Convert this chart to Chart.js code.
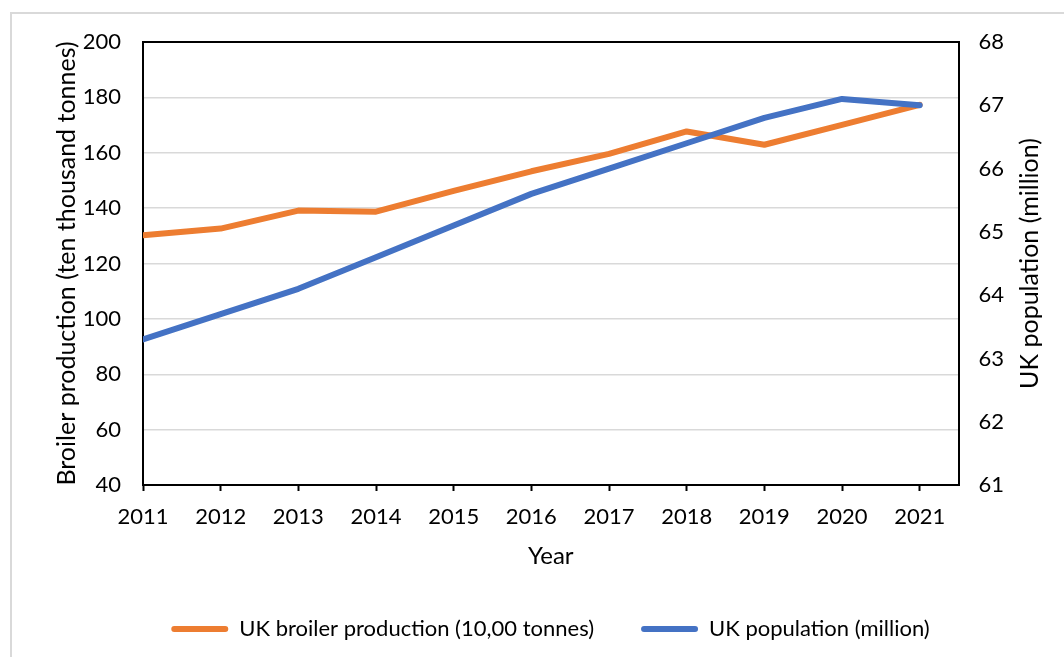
<!DOCTYPE html>
<html>
<head>
<meta charset="utf-8">
<script src="https://cdn.jsdelivr.net/npm/chart.js@4.4.1/dist/chart.umd.min.js"></script>
<style>
    body { margin: 0; background: #fff; }
    #wrap { position: relative; width: 1064px; height: 657px; overflow: hidden; }
    #frame {
        position: absolute; left: 10px; top: 12px; width: 1100px; height: 700px;
        border-left: 2px solid #d9d9d9; border-top: 2px solid #d9d9d9;
    }
    #chart { position: absolute; left: 0; top: 0; }
</style>
</head>
<body>
<div id="wrap">
    <div id="frame"></div>
    <canvas id="chart" width="1064" height="657"></canvas>
</div>
<script>
const years = [2011, 2012, 2013, 2014, 2015, 2016, 2017, 2018, 2019, 2020, 2021]
const broilerProduction = [130.2, 132.6, 139.1, 138.7, 146.2, 153.3, 159.6, 167.7, 162.9, 170.1, 177.3]
const ukPopulation = [63.3, 63.7, 64.1, 64.6, 65.1, 65.6, 66.0, 66.4, 66.8, 67.1, 67.0]

const leftTicks = { min: 40, max: 200, step: 20 }
const rightTicks = { min: 61, max: 68, step: 1 }

const orange = "#ED7D31"
const blue = "#4472C4"
const fontFamily = "Lato, 'Open Sans', sans-serif"

// right axis title reads bottom-to-top, and the plot gets a closed box
const extrasPlugin = {
    id: "extras",
    afterDraw(chart) {
        const { ctx, chartArea } = chart
        ctx.save()
        ctx.strokeStyle = "#000"
        ctx.lineWidth = 2
        ctx.beginPath()
        ctx.moveTo(chartArea.left, chartArea.top)
        ctx.lineTo(chartArea.right, chartArea.top)
        ctx.stroke()

        ctx.translate(1030, (chartArea.top + chartArea.bottom) / 2)
        ctx.rotate(-Math.PI / 2)
        ctx.font = `25px ${fontFamily}`
        ctx.fillStyle = "#000"
        ctx.textAlign = "center"
        ctx.textBaseline = "middle"
        ctx.fillText("UK population (million)", 0, 0)
        ctx.restore()
    }
}

;(function () {
    'use strict'

    let canvas = document.getElementById("chart")
    let config = {
        type: "line",
        data: {
            datasets: [
                {
                    label: "UK broiler production (10,00 tonnes)",
                    data: years.map((yr, i) => ({ x: yr, y: broilerProduction[i] })),
                    borderColor: orange,
                    backgroundColor: orange,
                    yAxisID: "y",
                    order: 1
                },
                {
                    label: "UK population (million)",
                    data: years.map((yr, i) => ({ x: yr, y: ukPopulation[i] })),
                    borderColor: blue,
                    backgroundColor: blue,
                    yAxisID: "y1",
                    order: 0
                }
            ]
        },
        options: {
            responsive: false,
            animation: false,
            devicePixelRatio: 1,
            layout: {
                padding: { left: 37, right: 0, top: 42, bottom: 7 }
            },
            elements: {
                line: { borderWidth: 6, tension: 0, borderCapStyle: "round", borderJoinStyle: "round" },
                point: { radius: 0 }
            },
            plugins: {
                tooltip: { enabled: false },
                legend: {
                    position: "bottom",
                    labels: {
                        color: "#000",
                        font: { family: fontFamily, size: 22 },
                        boxWidth: 57,
                        boxHeight: 6,
                        padding: 47,
                        useBorderRadius: true,
                        borderRadius: 3,
                        sort: (a, b) => a.datasetIndex - b.datasetIndex,
                        generateLabels: chart => {
                            let items = Chart.defaults.plugins.legend.labels.generateLabels(chart)
                            return items.map(it => Object.assign(it, { lineWidth: 0 }))
                        }
                    }
                }
            },
            scales: {
                x: {
                    type: "linear",
                    min: years[0],
                    max: years[years.length - 1] + 0.5,
                    afterBuildTicks: scale => {
                        scale.ticks = years.map(yr => ({ value: yr }))
                    },
                    afterFit: scale => { scale.height = 86 },
                    ticks: {
                        color: "#000",
                        font: { family: fontFamily, size: 22 },
                        padding: 13,
                        maxRotation: 0,
                        callback: value => String(value)
                    },
                    grid: {
                        drawOnChartArea: false,
                        drawTicks: true,
                        tickLength: 6,
                        tickColor: "#000",
                        tickWidth: 2
                    },
                    border: { color: "#000", width: 2 },
                    title: {
                        display: true,
                        text: "Year",
                        color: "#000",
                        font: { family: fontFamily, size: 24 },
                        padding: { top: 2, bottom: 0 }
                    }
                },
                y: {
                    position: "left",
                    min: leftTicks.min,
                    max: leftTicks.max,
                    afterFit: scale => { scale.width = 106 },
                    ticks: {
                        stepSize: leftTicks.step,
                        color: "#000",
                        font: { family: fontFamily, size: 22 },
                        padding: 22
                    },
                    grid: {
                        color: "#d9d9d9",
                        lineWidth: 1.5,
                        drawTicks: false
                    },
                    border: { color: "#000", width: 2 },
                    title: {
                        display: true,
                        text: "Broiler production (ten thousand tonnes)",
                        color: "#000",
                        font: { family: fontFamily, size: 25 },
                        padding: { top: 15, bottom: 0 }
                    }
                },
                y1: {
                    position: "right",
                    min: rightTicks.min,
                    max: rightTicks.max,
                    afterFit: scale => { scale.width = 105.5 },
                    ticks: {
                        stepSize: rightTicks.step,
                        color: "#000",
                        font: { family: fontFamily, size: 22 },
                        padding: 20
                    },
                    grid: {
                        drawOnChartArea: false,
                        drawTicks: false
                    },
                    border: { color: "#000", width: 2 }
                }
            }
        },
        plugins: [extrasPlugin]
    }

    new Chart(canvas, config)
})()
</script>
</body>
</html>
